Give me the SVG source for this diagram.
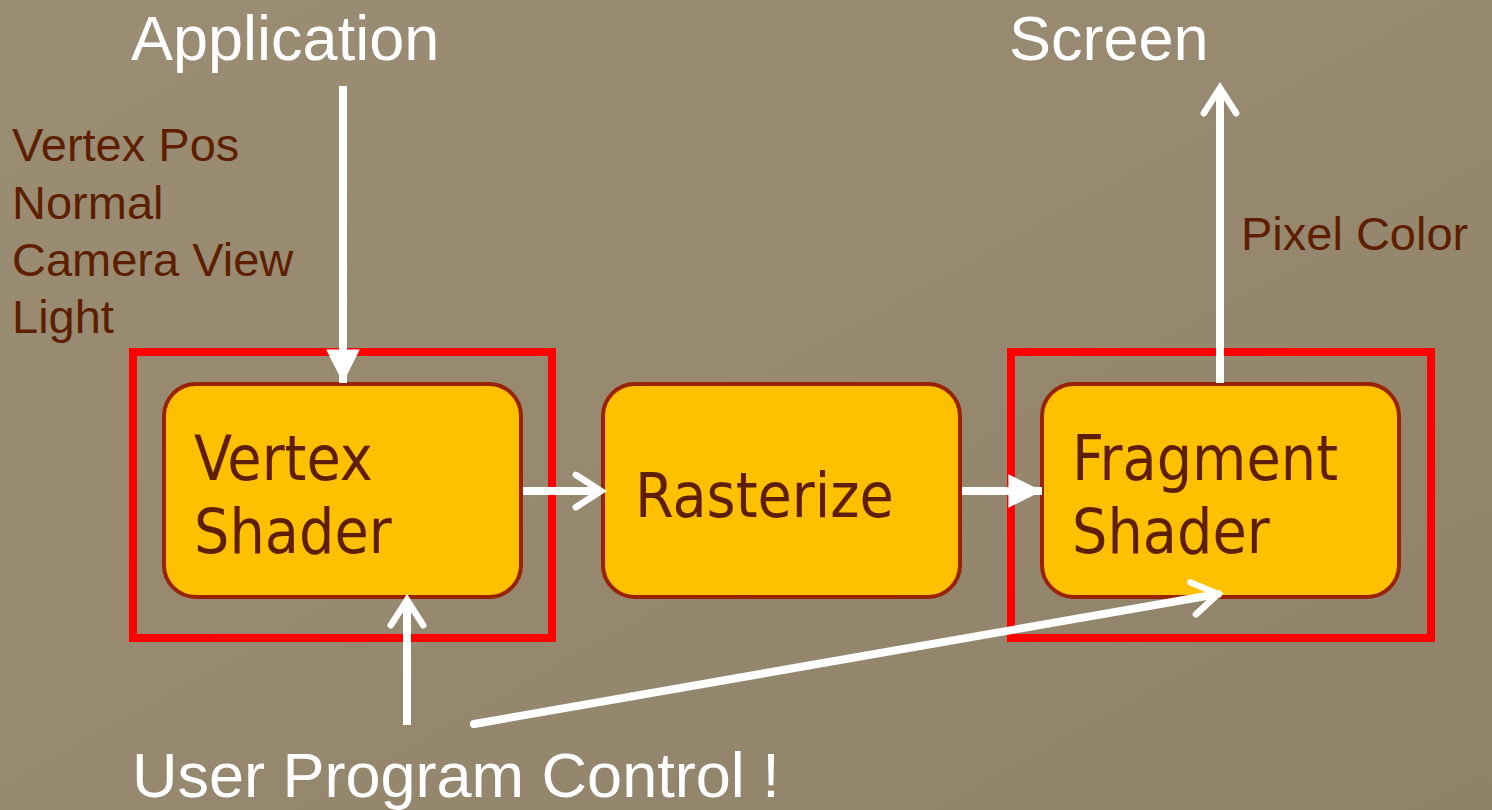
<svg xmlns="http://www.w3.org/2000/svg" width="1492" height="810" viewBox="0 0 1492 810">
<defs>
<style>
.lbl{font-family:"Liberation Sans",Arial,sans-serif;}
.white{fill:#ffffff;font-size:63px;}
.brown{fill:#5e1f00;font-size:47px;}
.node rect.stage{fill:#ffc000;stroke:#992200;stroke-width:4;}
.node text{font-family:"DejaVu Sans Condensed","DejaVu Sans",sans-serif;font-size:62px;fill:#5e1f00;}
.frame{fill:none;stroke:#ff0000;stroke-width:8;}
.conn{stroke:#ffffff;stroke-width:8;fill:none;stroke-linecap:butt;}
</style>
<marker id="tri" viewBox="0 0 10 10" refX="10" refY="5" markerWidth="4.2" markerHeight="4.2" markerUnits="strokeWidth" orient="auto">
<path d="M0,0 L10,5 L0,10 Z" fill="#ffffff"/>
</marker>
<marker id="open" viewBox="0 0 12 12" refX="10" refY="6" markerWidth="5.4" markerHeight="5.4" markerUnits="strokeWidth" orient="auto">
<path d="M3,1.5 L10,6 L3,10.5" fill="none" stroke="#ffffff" stroke-width="1.8" stroke-linecap="round" stroke-linejoin="miter"/>
</marker>
<linearGradient id="bg" x1="0" y1="0" x2="1" y2="1">
<stop offset="0" stop-color="#9a8d74"/>
<stop offset="0.5" stop-color="#968970"/>
<stop offset="1" stop-color="#8f8269"/>
</linearGradient>
</defs>
<rect x="0" y="0" width="1492" height="810" fill="url(#bg)"/>

<g id="labels" class="lbl">
<text class="white" x="131" y="60">Application</text>
<text class="white" x="1009" y="60">Screen</text>
<text class="brown" x="12" y="161">Vertex Pos</text>
<text class="brown" x="12" y="219">Normal</text>
<text class="brown" x="12" y="276">Camera View</text>
<text class="brown" x="12" y="333">Light</text>
<text class="brown" x="1241" y="250">Pixel Color</text>
<text class="white" x="132" y="797">User Program Control !</text>
</g>

<g id="frames">
<rect class="frame" x="133" y="352" width="419" height="286"/>
<rect class="frame" x="1011" y="352" width="420" height="286"/>
</g>

<g id="vertex-shader" class="node">
<rect class="stage" x="164" y="384" width="357" height="213" rx="32"/>
<text x="194" y="480">Vertex</text>
<text x="194" y="553">Shader</text>
</g>
<g id="rasterize" class="node">
<rect class="stage" x="603" y="384" width="357" height="213" rx="32"/>
<text x="635" y="517">Rasterize</text>
</g>
<g id="fragment-shader" class="node">
<rect class="stage" x="1042" y="384" width="357" height="213" rx="32"/>
<text x="1072" y="480">Fragment</text>
<text x="1072" y="553">Shader</text>
</g>

<g id="connectors">
<line class="conn" x1="343" y1="86" x2="343" y2="383" marker-end="url(#tri)"/>
<line class="conn" x1="1220" y1="383" x2="1220" y2="88" marker-end="url(#open)"/>
<line class="conn" x1="523" y1="491" x2="601" y2="491" marker-end="url(#open)"/>
<line class="conn" x1="962" y1="491" x2="1042" y2="491" marker-end="url(#tri)"/>
<line class="conn" x1="407" y1="725" x2="407" y2="600" marker-end="url(#open)"/>
<line class="conn" x1="474" y1="724" x2="1218" y2="594" marker-end="url(#open)" style="stroke-linecap:round"/>
</g>
</svg>
